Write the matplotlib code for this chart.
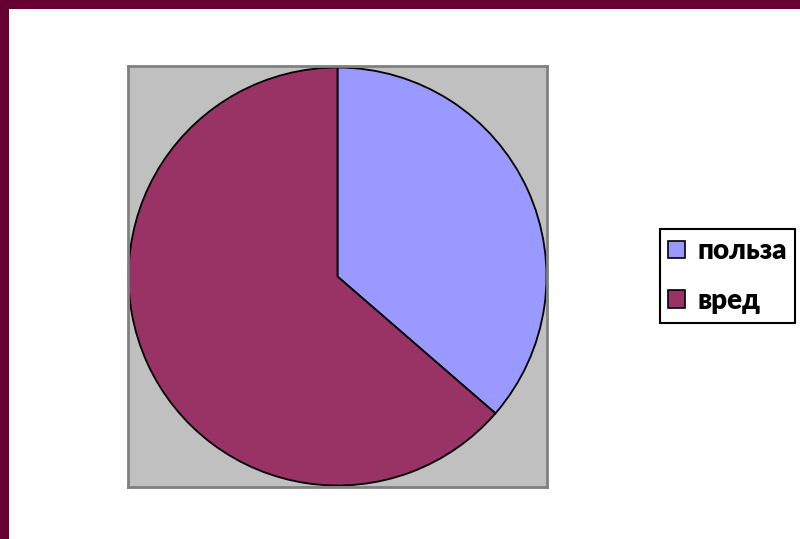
import matplotlib
matplotlib.use("Agg")
import matplotlib.pyplot as plt
from matplotlib.patches import Rectangle

labels = ["польза", "вред"]
values = [4, 7]
colors = ["#9999FF", "#993366"]

W, H = 800, 539
fig = plt.figure(figsize=(W / 100, H / 100), dpi=100)
fig.patch.set_facecolor("white")

# maroon frame on top and left
fig.patches.append(Rectangle((0, 1 - 9 / H), 1, 9 / H, transform=fig.transFigure,
                             facecolor="#660033", edgecolor="none", zorder=0))
fig.patches.append(Rectangle((0, 0), 9 / W, 1, transform=fig.transFigure,
                             facecolor="#660033", edgecolor="none", zorder=0))

x0, x1, y0, y1 = 128, 547, 66, 487
ax = fig.add_axes([x0 / W, 1 - y1 / H, (x1 - x0) / W, (y1 - y0) / H])
ax.set_facecolor("#C0C0C0")
wedges, _ = ax.pie(values, colors=colors, startangle=90, counterclock=False,
                   wedgeprops=dict(edgecolor="black", linewidth=1.3))
r = 209.0
ax.set_aspect("auto")
ax.set_xlim(-(x1 - x0) / 2 / r, (x1 - x0) / 2 / r)
ax.set_ylim(-(y1 - y0) / 2 / r, (y1 - y0) / 2 / r)
ax.set_frame_on(True)
for s in ax.spines.values():
    s.set_edgecolor("#808080")
    s.set_linewidth(2)
ax.set_xticks([])
ax.set_yticks([])

leg = fig.legend(wedges, labels, loc="center",
                 bbox_to_anchor=(727.5 / W, 1 - 276 / H),
                 prop=dict(family="Lato", weight="heavy", size=20),
                 fancybox=False, edgecolor="black", framealpha=1,
                 handlelength=0.58, handleheight=0.58, handletextpad=0.45,
                 labelspacing=0.85, borderpad=0.32, borderaxespad=0)
leg.get_frame().set_linewidth(1.5)
for h in leg.legend_handles:
    h.set_edgecolor("black")
    h.set_linewidth(1.2)

fig.savefig("out.png", dpi=100)
